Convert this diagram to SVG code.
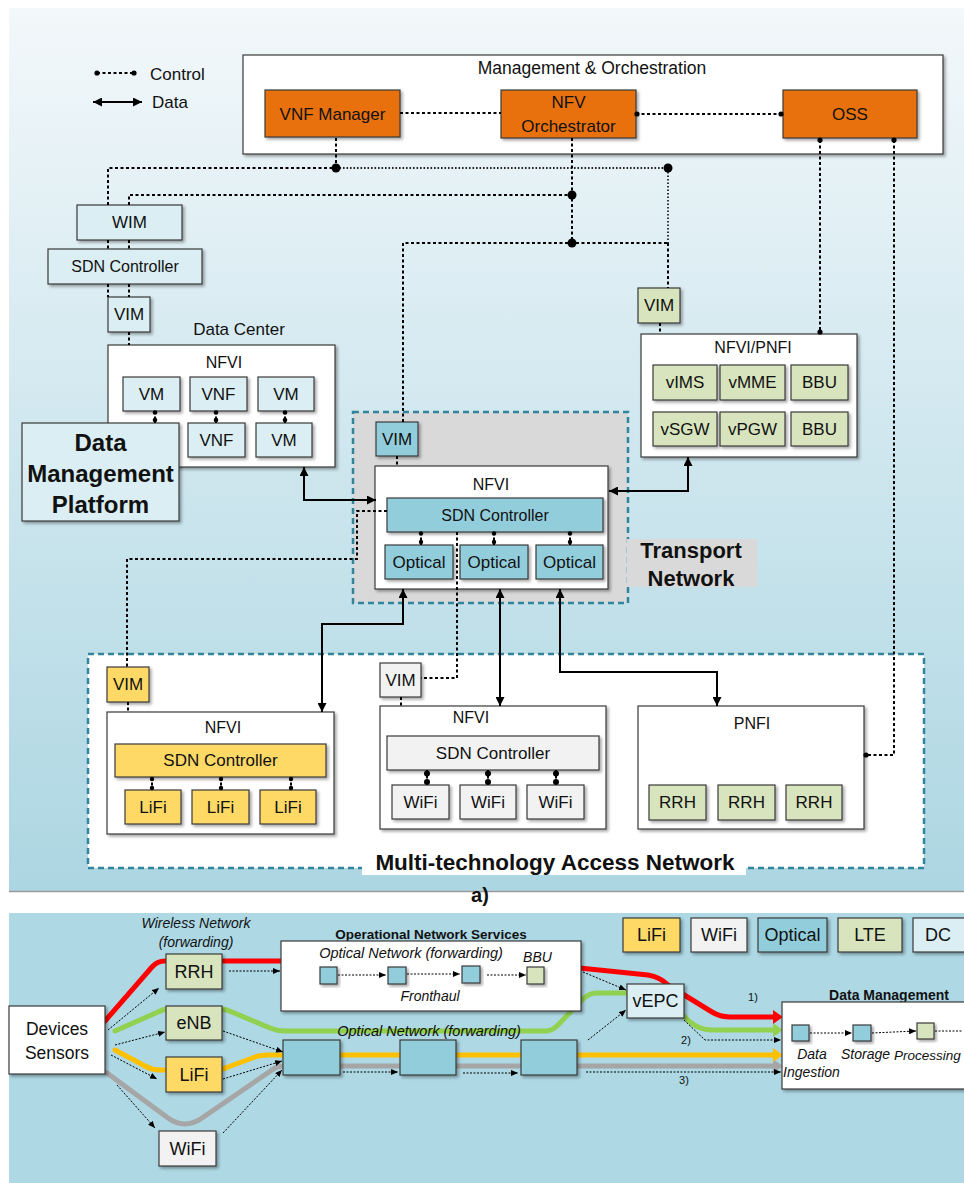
<svg xmlns="http://www.w3.org/2000/svg" width="964" height="1183" viewBox="0 0 964 1183">
<defs>
<linearGradient id="bgTop" x1="0" y1="0" x2="0" y2="1">
<stop offset="0" stop-color="#f3f8fa"/>
<stop offset="0.4" stop-color="#d6eaf1"/>
<stop offset="1" stop-color="#acd6e2"/>
</linearGradient>
<filter id="sh" x="-10%" y="-10%" width="130%" height="130%">
<feDropShadow dx="2" dy="2" stdDeviation="1.4" flood-color="#000" flood-opacity="0.35"/>
</filter>
<marker id="ah" viewBox="0 0 9 9" refX="9" refY="4.5" markerWidth="9" markerHeight="9" markerUnits="userSpaceOnUse" orient="auto-start-reverse">
<path d="M0,0 L9,4.5 L0,9 z" fill="#000"/>
</marker>
<marker id="sa" viewBox="0 0 7 6" refX="7" refY="3" markerWidth="7" markerHeight="6" markerUnits="userSpaceOnUse" orient="auto">
<path d="M0,0 L7,3 L0,6 z" fill="#000"/>
</marker>
<style>
.box{stroke:#3a3a3a;stroke-width:1.2;filter:url(#sh)}
.wh{fill:#ffffff}.or{fill:#e8710e}.op{fill:#92cddc}.dc{fill:#daeef3}.lf{fill:#ffd966}.wf{fill:#f2f2f2}.lte{fill:#d7e4bd}
.t{font-family:"Liberation Sans",Arial,sans-serif;font-size:17px;fill:#111;text-anchor:middle;dominant-baseline:central}
.s16{font-size:16px}.s18{font-size:18px}
.b{font-weight:bold}
.i{font-style:italic;font-size:14px}
.ctl{fill:none;stroke:#000;stroke-width:2;stroke-dasharray:3 2.5}
.ctl2{fill:none;stroke:#222;stroke-width:1.8;stroke-dasharray:1.6 1.9}
.dat{fill:none;stroke:#000;stroke-width:2;marker-start:url(#ah);marker-end:url(#ah)}
.thin{fill:none;stroke:#000;stroke-width:1;stroke-dasharray:2 1.5;marker-end:url(#sa)}
.thinn{fill:none;stroke:#000;stroke-width:1;stroke-dasharray:2 1.5}
.flow{fill:none;stroke-width:5;stroke-linejoin:round;stroke-linecap:round}
</style>
</defs>

<!-- panels -->
<g id="panels">
<rect x="0" y="0" width="964" height="1183" fill="#ffffff"/>
<rect x="9" y="8" width="955" height="883" fill="url(#bgTop)"/>
<line x1="9" y1="891.5" x2="964" y2="891.5" stroke="#9a9a9a" stroke-width="1.5"/>
<rect x="9" y="913" width="955" height="270" fill="#add8e4"/>
</g>

<!-- regions -->
<g id="transport-region">
<rect x="353" y="412" width="275" height="191" fill="#d9d9d9" stroke="#31849b" stroke-width="2.5" stroke-dasharray="6 4"/>
<rect x="627" y="539" width="130" height="48" fill="#d9d9d9"/>
<text class="t b" x="691" y="550" style="font-size:22px">Transport</text>
<text class="t b" x="691" y="578" style="font-size:22px">Network</text>
</g>
<g id="access-region">
<rect x="88" y="654" width="836" height="214" fill="#ffffff" stroke="#31849b" stroke-width="2.5" stroke-dasharray="6 4"/>
<rect x="362" y="853" width="384" height="22" fill="#ffffff"/>
<text class="t b" x="555" y="862" style="font-size:22.5px">Multi-technology Access Network</text>
</g>
<text class="t b" x="480" y="895" style="font-size:20px">a)</text>

<!-- legend -->
<g id="legend">
<line x1="97" y1="73" x2="134" y2="73" class="ctl"/>
<circle cx="97" cy="73" r="2.6"/><circle cx="134" cy="73" r="2.6"/>
<text class="t" x="150" y="74" style="text-anchor:start">Control</text>
<line x1="93" y1="102" x2="142" y2="102" class="dat"/>
<text class="t" x="152" y="102" style="text-anchor:start">Data</text>
</g>

<!-- flows in lower panel (behind nodes) -->
<g id="flows">
<path class="flow" stroke="#a6a6a6" d="M107,1073 L168,1118 Q185,1130 202,1118 L272,1070 Q277,1066 285,1066 L774,1066"/>
<polygon points="773,1059 783,1066 773,1073" fill="#a6a6a6"/>
<path class="flow" stroke="#ffc000" d="M115,1050 L145,1066 Q152,1070 160,1070 L215,1070 Q222,1070 228,1067 L255,1057 Q260,1055 268,1055 L774,1055"/>
<polygon points="773,1048 783,1055 773,1062" fill="#ffc000"/>
<path class="flow" stroke="#92d050" d="M115,1031 L158,1012 Q163,1009 170,1009 L220,1009 Q226,1009 232,1012 L270,1028 Q277,1031 285,1031 L545,1031 Q552,1031 557,1026 L583,999 Q589,993 597,993 L660,993 L690,1022 Q700,1030 712,1030 L774,1030"/>
<polygon points="773,1023 783,1030 773,1037" fill="#92d050"/>
<path class="flow" stroke="#ff0000" d="M105,1021 L152,967 Q157,961 165,961 L300,961 L560,966 L648,975 Q660,977 668,985 L712,1012 Q720,1017 730,1017 L774,1017"/>
<polygon points="773,1010 783,1017 773,1024" fill="#ff0000"/>
</g>

<!-- top nodes -->
<g id="mano"><rect class="box wh" x="243" y="55" width="700" height="99"/><text class="t" x="592" y="68" style="font-size:17.5px">Management &amp; Orchestration</text></g>
<g id="vnf-manager"><rect class="box or" x="265" y="90" width="135" height="47"/><text class="t" x="332.5" y="114">VNF Manager</text></g>
<g id="nfv-orchestrator"><rect class="box or" x="501" y="90" width="135" height="48"/><text class="t" x="568.5" y="102">NFV</text><text class="t" x="568.5" y="126">Orchestrator</text></g>
<g id="oss"><rect class="box or" x="783" y="90" width="134" height="48"/><text class="t" x="850" y="114">OSS</text></g>

<g id="wim"><rect class="box dc" x="77" y="205" width="105" height="35"/><text class="t" x="129.5" y="222.5">WIM</text></g>
<g id="dc-sdn"><rect class="box dc" x="48" y="249" width="154" height="35"/><text class="t s16" x="125" y="266.5">SDN Controller</text></g>
<g id="dc-vim"><rect class="box dc" x="108" y="297" width="42" height="35"/><text class="t" x="129" y="314.5">VIM</text></g>
<text class="t" x="239" y="329">Data Center</text>
<g id="dc-nfvi">
<rect class="box wh" x="108" y="345" width="227" height="122"/>
<text class="t s16" x="224" y="362">NFVI</text>
<rect class="box dc" x="123" y="377" width="57" height="34"/><text class="t" x="151.5" y="394">VM</text>
<rect class="box dc" x="190" y="377" width="57" height="34"/><text class="t" x="218.5" y="394">VNF</text>
<rect class="box dc" x="258" y="377" width="56" height="34"/><text class="t" x="286" y="394">VM</text>
<rect class="box dc" x="188" y="423" width="57" height="34"/><text class="t" x="216.5" y="440">VNF</text>
<rect class="box dc" x="256" y="423" width="56" height="34"/><text class="t" x="284" y="440">VM</text>
</g>
<g id="dmp"><rect class="box dc" x="22" y="423" width="157" height="98"/>
<text class="t b" x="100.5" y="442" style="font-size:24px">Data</text>
<text class="t b" x="100.5" y="473" style="font-size:24px">Management</text>
<text class="t b" x="100.5" y="504" style="font-size:24px">Platform</text></g>

<g id="lte-vim"><rect class="box lte" x="638" y="288" width="42" height="35"/><text class="t" x="659" y="305.5">VIM</text></g>
<g id="nfvi-pnfi">
<rect class="box wh" x="641" y="334" width="216" height="123"/>
<text class="t s16" x="753" y="347">NFVI/PNFI</text>
<rect class="box lte" x="653" y="365" width="64" height="35"/><text class="t" x="685" y="382.5">vIMS</text>
<rect class="box lte" x="720" y="365" width="65" height="35"/><text class="t" x="752.5" y="382.5">vMME</text>
<rect class="box lte" x="791" y="365" width="57" height="35"/><text class="t" x="819.5" y="382.5">BBU</text>
<rect class="box lte" x="653" y="412" width="64" height="34"/><text class="t" x="685" y="429">vSGW</text>
<rect class="box lte" x="720" y="412" width="65" height="34"/><text class="t" x="752.5" y="429">vPGW</text>
<rect class="box lte" x="791" y="412" width="57" height="34"/><text class="t" x="819.5" y="429">BBU</text>
</g>

<g id="tn-vim"><rect class="box op" x="376" y="422" width="42" height="34"/><text class="t" x="397" y="439">VIM</text></g>
<g id="tn-nfvi">
<rect class="box wh" x="375" y="466" width="233" height="123"/>
<text class="t s16" x="491" y="484">NFVI</text>
<rect class="box op" x="387" y="498" width="216" height="34"/><text class="t s16" x="495" y="515">SDN Controller</text>
<rect class="box op" x="385" y="545" width="68" height="34"/><text class="t" x="419" y="562">Optical</text>
<rect class="box op" x="460" y="545" width="68" height="34"/><text class="t" x="494" y="562">Optical</text>
<rect class="box op" x="536" y="545" width="67" height="34"/><text class="t" x="569.5" y="562">Optical</text>
</g>

<g id="lifi-vim"><rect class="box lf" x="107" y="667" width="42" height="35"/><text class="t" x="128" y="684.5">VIM</text></g>
<g id="lifi-nfvi">
<rect class="box wh" x="107" y="712" width="227" height="122"/>
<text class="t s16" x="223" y="727">NFVI</text>
<rect class="box lf" x="115" y="744" width="211" height="33"/><text class="t" x="220.5" y="760.5">SDN Controller</text>
<rect class="box lf" x="125" y="790" width="56" height="34"/><text class="t" x="153" y="807">LiFi</text>
<rect class="box lf" x="192" y="790" width="57" height="34"/><text class="t" x="220.5" y="807">LiFi</text>
<rect class="box lf" x="260" y="790" width="56" height="34"/><text class="t" x="288" y="807">LiFi</text>
</g>
<g id="wifi-vim"><rect class="box wf" x="380" y="663" width="41" height="34"/><text class="t" x="400.5" y="680">VIM</text></g>
<g id="wifi-nfvi">
<rect class="box wh" x="380" y="706" width="226" height="123"/>
<text class="t s16" x="471" y="717">NFVI</text>
<rect class="box wf" x="387" y="736" width="212" height="34"/><text class="t" x="493" y="753">SDN Controller</text>
<rect class="box wf" x="392" y="785" width="57" height="34"/><text class="t" x="420.5" y="802">WiFi</text>
<rect class="box wf" x="460" y="785" width="56" height="34"/><text class="t" x="488" y="802">WiFi</text>
<rect class="box wf" x="527" y="785" width="57" height="34"/><text class="t" x="555.5" y="802">WiFi</text>
</g>
<g id="pnfi">
<rect class="box wh" x="638" y="706" width="226" height="123"/>
<text class="t s16" x="752" y="723">PNFI</text>
<rect class="box lte" x="649" y="785" width="57" height="35"/><text class="t" x="677.5" y="802.5">RRH</text>
<rect class="box lte" x="718" y="785" width="57" height="35"/><text class="t" x="746.5" y="802.5">RRH</text>
<rect class="box lte" x="786" y="785" width="56" height="35"/><text class="t" x="814" y="802.5">RRH</text>
</g>

<!-- lower panel nodes -->
<g id="legend-b">
<rect class="box lf" x="623" y="918" width="57" height="34"/><text class="t s18" x="651.5" y="935">LiFi</text>
<rect class="box wf" x="691" y="918" width="56" height="34"/><text class="t s18" x="719" y="935">WiFi</text>
<rect class="box op" x="758" y="918" width="69" height="34"/><text class="t s18" x="792.5" y="935">Optical</text>
<rect class="box lte" x="838" y="918" width="64" height="34"/><text class="t s18" x="870" y="935">LTE</text>
<rect class="box dc" x="913" y="918" width="56" height="34"/><text class="t s18" x="938" y="935">DC</text>
</g>
<g id="devices"><rect class="box wh" x="9" y="1006" width="96" height="68"/><text class="t" x="57" y="1029" style="font-size:17.5px">Devices</text><text class="t" x="57" y="1053" style="font-size:17.5px">Sensors</text></g>
<text class="t i" x="196" y="923">Wireless Network</text>
<text class="t i" x="196" y="942">(forwarding)</text>
<g id="b-rrh"><rect class="box lte" x="166" y="954" width="56" height="35"/><text class="t s18" x="194" y="971.5">RRH</text></g>
<g id="b-enb"><rect class="box lte" x="166" y="1006" width="56" height="34"/><text class="t s18" x="194" y="1023">eNB</text></g>
<g id="b-lifi"><rect class="box lf" x="166" y="1057" width="56" height="35"/><text class="t s18" x="194" y="1074.5">LiFi</text></g>
<g id="b-wifi"><rect class="box wf" x="159" y="1131" width="57" height="35"/><text class="t s18" x="187.5" y="1148.5">WiFi</text></g>
<g id="ons">
<text class="t b" x="431" y="934" style="font-size:13.5px">Operational Network Services</text>
<rect class="box wh" x="281" y="941" width="300" height="70"/>
<text class="t i" x="411" y="953" style="font-size:14.5px">Optical Network (forwarding)</text>
<rect class="box op" x="320" y="967" width="17" height="17"/>
<rect class="box op" x="388" y="967" width="18" height="17"/>
<rect class="box op" x="462" y="966" width="18" height="17"/>
<rect class="box lte" x="527" y="967" width="17" height="17"/>
<text class="t i" x="537.5" y="957">BBU</text>
<text class="t i" x="430" y="996">Fronthaul</text>
</g>
<text class="t i" x="429" y="1031" style="font-size:14.5px">Optical Network (forwarding)</text>
<g id="b-opt1"><rect class="box op" x="283" y="1040" width="57" height="35"/></g>
<g id="b-opt2"><rect class="box op" x="400" y="1040" width="56" height="35"/></g>
<g id="b-opt3"><rect class="box op" x="521" y="1040" width="56" height="35"/></g>
<g id="vepc"><rect class="box dc" x="627" y="984" width="57" height="34"/><text class="t s18" x="655.5" y="1001">vEPC</text></g>
<g id="data-mgmt">
<text class="t b" x="889" y="995" style="font-size:14px">Data Management</text>
<rect class="box wh" x="782" y="1002" width="185" height="87"/>
<rect class="box op" x="792" y="1025" width="17" height="16"/>
<rect class="box op" x="853" y="1025" width="18" height="16"/>
<rect class="box lte" x="917" y="1023" width="17" height="16"/>
<text class="t i" x="812" y="1054">Data</text>
<text class="t i" x="811.5" y="1072">Ingestion</text>
<text class="t i" x="865.5" y="1054">Storage</text>
<text class="t i" x="927.5" y="1055" style="font-size:13.5px">Processing</text>
</g>
<text class="t" x="753" y="997" style="font-size:11px">1)</text>
<text class="t" x="686" y="1040" style="font-size:11px">2)</text>
<text class="t" x="684" y="1080" style="font-size:11px">3)</text>

<!-- connectors -->
<g id="connectors">
<path class="ctl" d="M108,205 V168 H336"/>
<path class="ctl2" d="M336,168 H668 V243"/>
<path class="ctl" d="M668,243 V288"/>
<path class="ctl" d="M336,138 V168"/>
<path class="ctl" d="M129,205 V195 H572"/>
<path class="ctl" d="M572,138 V243"/>
<path class="ctl" d="M403,422 V243 H668"/>
<path class="ctl" d="M108,240 V249 M129,240 V249 M108,284 V297 M129,284 V297 M129,332 V345"/>
<path class="ctl" d="M400,113 H501"/>
<path class="ctl" d="M636,114 H783"/>
<circle cx="637" cy="114" r="2.6"/><circle cx="781" cy="114" r="2.6"/>
<path class="ctl" d="M820,140 V332"/>
<circle cx="820" cy="140" r="2.6"/><circle cx="820" cy="332" r="2.6"/>
<path class="ctl" d="M894,140 V755 H866"/>
<circle cx="894" cy="140" r="2.6"/><circle cx="866" cy="755" r="2.6"/>
<path class="ctl" d="M660,323 V334"/>
<path class="ctl" d="M397,456 V466"/>
<path class="ctl" d="M387,511 H357 V559 H127 V667"/>
<path class="ctl" d="M128,702 V712"/>
<path class="ctl" d="M457,532 V678 H421"/>
<path class="ctl" d="M401,697 V706"/>
<circle cx="336" cy="168" r="4.5"/><circle cx="668" cy="168" r="4.5"/>
<circle cx="572" cy="195" r="4.5"/><circle cx="572" cy="243" r="4.5"/>
<path class="ctl" d="M155,411 V423 M216,411 V423 M285,411 V423" stroke-width="1.5"/>
<circle cx="155" cy="412.5" r="2.3"/><circle cx="155" cy="420" r="2.3"/>
<circle cx="216" cy="412.5" r="2.3"/><circle cx="216" cy="420" r="2.3"/>
<circle cx="285" cy="412.5" r="2.3"/><circle cx="285" cy="420" r="2.3"/>
<path class="ctl" d="M421,532 V545 M494,532 V545 M570,532 V545" stroke-width="1.5"/>
<circle cx="421" cy="533.5" r="2.2"/><circle cx="421" cy="542" r="2.2"/>
<circle cx="494" cy="533.5" r="2.2"/><circle cx="494" cy="542" r="2.2"/>
<circle cx="570" cy="533.5" r="2.2"/><circle cx="570" cy="542" r="2.2"/>
<path class="ctl" d="M152,777 V790 M221,777 V790 M291,777 V790" stroke-width="1.5"/>
<circle cx="152" cy="779" r="2.2"/><circle cx="152" cy="788" r="2.2"/>
<circle cx="221" cy="779" r="2.2"/><circle cx="221" cy="788" r="2.2"/>
<circle cx="291" cy="779" r="2.2"/><circle cx="291" cy="788" r="2.2"/>
<path class="ctl" d="M427,770 V785 M488,770 V785 M556,770 V785" stroke-width="1.5"/>
<circle cx="427" cy="773.5" r="3"/><circle cx="427" cy="782" r="3"/>
<circle cx="488" cy="773.5" r="3"/><circle cx="488" cy="782" r="3"/>
<circle cx="556" cy="773.5" r="3"/><circle cx="556" cy="782" r="3"/>
<path class="dat" d="M304,467 V500 H376"/>
<path class="dat" d="M609,491 H688 V457"/>
<path class="dat" d="M403,589 V624 H322 V712"/>
<path class="dat" d="M500,589 V706"/>
<path class="dat" d="M560,589 V672 H717 V706"/>
<path class="thin" d="M108,1030 L159,988"/>
<path class="thin" d="M115,1045 L165,1032"/>
<path class="thin" d="M111,1055 L157,1079"/>
<path class="thin" d="M117,1085 L155,1128"/>
<path class="thin" d="M229,971 L280,971"/>
<path class="thin" d="M223,1031 L283,1052"/>
<path class="thin" d="M223,1079 L282,1061"/>
<path class="thin" d="M223,1133 L282,1070"/>
<path class="thin" d="M343,1072 L398,1072"/>
<path class="thin" d="M463,1073 L518,1073"/>
<path class="thin" d="M586,1072 L781,1072"/>
<path class="thin" d="M583,972 L626,990"/>
<path class="thin" d="M588,1040 L626,1010"/>
<path class="thin" d="M684,1020 L705,1040 L781,1040"/>
<path class="thin" d="M338,975 L386,975"/>
<path class="thin" d="M407,974 L460,974"/>
<path class="thin" d="M487,975 L526,975"/>
<path class="thin" d="M810,1033 L852,1033"/>
<path class="thin" d="M872,1033 L916,1031"/>
<path class="thinn" d="M935,1031 L963,1031"/>
</g>
</svg>
